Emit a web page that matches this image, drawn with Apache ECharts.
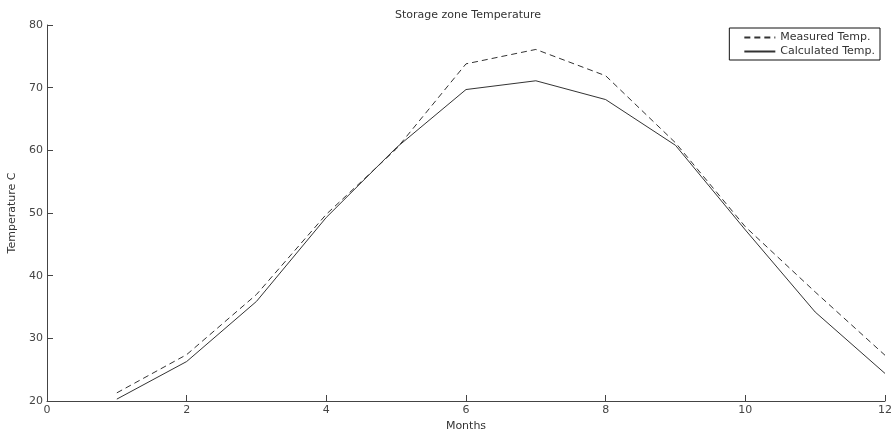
<!DOCTYPE html>
<html>
<head>
<meta charset="utf-8">
<script src="https://cdn.jsdelivr.net/npm/echarts@6/dist/echarts.min.js"></script>
<style>html,body{margin:0;padding:0;background:#fff;}#c{width:893px;height:430px;}</style>
</head>
<body>
<div id="c"></div>
<script>
var months = [1,2,3,4,5,6,7,8,9,10,11,12];
var measured = [21.3,27.4,37.0,49.8,60.2,73.8,76.1,71.9,61.2,47.8,37.4,27.3];
var calculated = [20.3,26.3,35.9,49.3,60.4,69.7,71.1,68.1,60.8,47.3,34.2,24.4];
var xTicks = [0,2,4,6,8,10,12];
var yTicks = [20,30,40,50,60,70,80];

var font = 'DejaVu Sans, Verdana, sans-serif';
var chart = echarts.init(document.getElementById('c'), null, {renderer:'canvas'});
function pairs(v){ return months.map(function(m,i){ return [m, v[i]]; }); }
chart.setOption({
  animation:false,
  backgroundColor:'#fff',
  title:{text:'Storage zone Temperature', left:463, textAlign:'center', top:5,
    textStyle:{fontSize:11, fontWeight:'normal', color:'#333', fontFamily:font}},
  grid:{left:47, right:8, top:25, bottom:29, containLabel:false, outerBoundsMode:'none'},
  legend:{orient:'vertical', right:13, top:28, itemWidth:31, itemHeight:12, itemGap:3,
    padding:[4,5,3,14], borderColor:'#111', borderWidth:1, backgroundColor:'#fff',
    itemStyle:{opacity:0},
    textStyle:{fontSize:11, color:'#333', fontFamily:font},
    data:[{name:'Measured Temp.'},{name:'Calculated Temp.'}]},
  xAxis:{type:'value', min:xTicks[0], max:xTicks[xTicks.length-1], interval:2,
    name:'Months', nameLocation:'middle', nameGap:13,
    nameTextStyle:{fontSize:11, color:'#333', fontFamily:font},
    axisLine:{lineStyle:{color:'#444', width:1}},
    axisTick:{inside:true, length:6, lineStyle:{color:'#444'}},
    axisLabel:{fontSize:11, color:'#444', margin:4, fontFamily:font},
    splitLine:{show:false}},
  yAxis:{type:'value', min:yTicks[0], max:yTicks[yTicks.length-1], interval:10,
    name:'Temperature C', nameLocation:'middle', nameGap:23, nameRotate:90,
    nameTextStyle:{fontSize:11, color:'#333', fontFamily:font},
    axisLine:{show:true, lineStyle:{color:'#444', width:1}},
    axisTick:{show:true, inside:true, length:6, lineStyle:{color:'#444'}},
    axisLabel:{fontSize:11, color:'#444', margin:4, fontFamily:font},
    splitLine:{show:false}},
  series:[
    {name:'Measured Temp.', type:'line', data:pairs(measured), symbol:'none', showSymbol:false,
      lineStyle:{color:'#333', width:1, type:[6,4]}, itemStyle:{color:'#333'}},
    {name:'Calculated Temp.', type:'line', data:pairs(calculated), symbol:'none', showSymbol:false,
      lineStyle:{color:'#333', width:1, type:'solid'}, itemStyle:{color:'#333'}}
  ]
});
</script>
</body>
</html>
